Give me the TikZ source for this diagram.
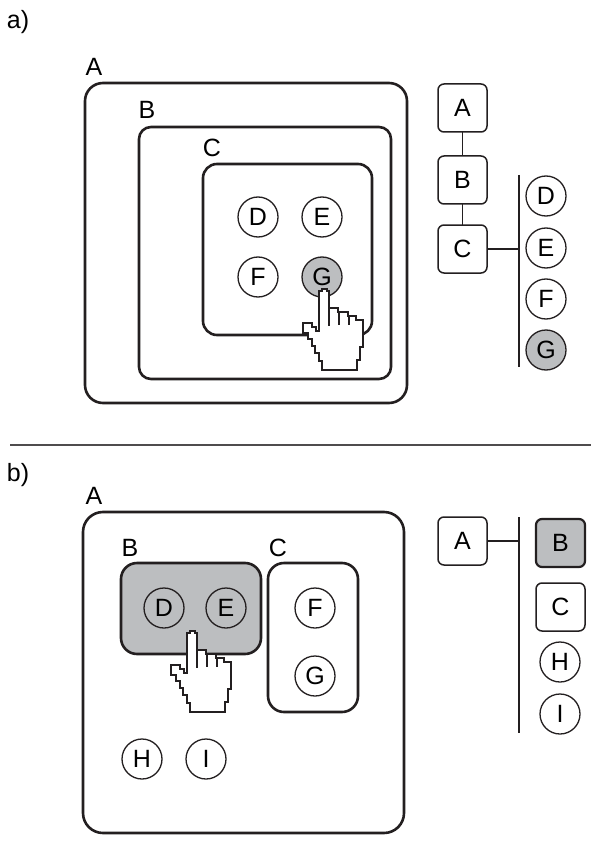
\documentclass[tikz,border=0pt]{standalone}
\usepackage{fontspec}
\setmainfont{Liberation Sans}
\definecolor{ink}{HTML}{231F20}
\definecolor{shade}{HTML}{BCBEC0}
\tikzset{
  region/.style={rectangle, draw=ink, line width=2.6pt, inner sep=0pt, outer sep=0pt},
  treebox/.style={rectangle, rounded corners=6pt, draw=ink, line width=1.5pt, minimum width=49pt,
                  minimum height=48pt, inner sep=0pt, outer sep=0pt, font=\fontsize{25}{25}\selectfont},
  leaf/.style={circle, draw=ink, line width=1.3pt, minimum size=40pt, inner sep=0pt, outer sep=0pt,
               font=\fontsize{25}{25}\selectfont},
  tag/.style={inner sep=0pt, font=\fontsize{25}{25}\selectfont},
  branch/.style={draw=ink, line width=1.8pt},
  hand/.pic={
    \draw[fill=white, draw=ink, line width=2.6pt, miter limit=2]
      (-5,42) -- (-5,2) -- (-2,2) -- (-2,0) -- (3,0) -- (3,2) -- (5,2) -- (5,19) -- (14,19)
      -- (14,23) -- (24,23) -- (24,27) -- (32,27) -- (32,31) -- (39,31) -- (39,58) -- (36,58)
      -- (36,71) -- (33,71) -- (33,81) -- (-2,81) -- (-2,72) -- (-5,72) -- (-5,64) -- (-9,64)
      -- (-9,57) -- (-12,57) -- (-12,50) -- (-16,50) -- (-16,44) -- (-21,44) -- (-21,34)
      -- (-12,34) -- (-12,38) -- (-8,38) -- (-8,42) -- cycle;
    \draw[draw=ink, line width=2.6pt]
      (5,19) -- (5,37) (15,23) -- (15,36) (25,27) -- (25,36);
  }
}
\begin{document}
\begin{tikzpicture}[x=1pt,y=-1pt]
    \useasboundingbox (0,0) rectangle (606,850);
    % Panel a, nested regions
    \node (paneA) at (18,22) [tag] {a)};
    \node (areaA) at (246,243) [region, rounded corners=18pt, minimum width=322pt, minimum height=320pt] {};
    \node (areaB) at (265,253) [region, rounded corners=12pt, minimum width=252pt, minimum height=252pt] {};
    \node (areaC) at (287.5,249.5) [region, rounded corners=14pt, minimum width=169pt, minimum height=171pt] {};
    \node (tagA) at (94,67) [tag] {A};
    \node (tagB) at (147,110) [tag] {B};
    \node (tagC) at (212,148) [tag] {C};
    \node (itemD) at (258,217) [leaf] {D};
    \node (itemE) at (322,217) [leaf] {E};
    \node (itemF) at (258,277) [leaf] {F};
    \node (itemG) at (322,277) [leaf, fill=shade] {G};
    \pic at (324,289) {hand};
    % Panel a, tree
    \node (treeA) at (462.5,108) [treebox] {A};
    \node (treeB) at (462.5,180) [treebox] {B};
    \node (treeC) at (462.5,249) [treebox] {C};
    \coordinate (barT) at (519,175);
    \coordinate (barB) at (519,367);
    \node (treeD) at (546,196) [leaf] {D};
    \node (treeE) at (546,248) [leaf] {E};
    \node (treeF) at (546,299) [leaf] {F};
    \node (treeG) at (546,350) [leaf, fill=shade] {G};
    \draw [branch] (treeA) -- (treeB);
    \draw [branch] (treeB) -- (treeC);
    \draw [branch] (treeC) -- (treeC -| barT);
    \draw [branch] (barT) -- (barB);
    % Divider
    \coordinate (ruleL) at (10,445);
    \coordinate (ruleR) at (591,445);
    \draw [draw=ink!80, line width=1.5pt] (ruleL) -- (ruleR);
    % Panel b, regions
    \node (paneB) at (18,475) [tag] {b)};
    \node (spaceA) at (243.5,672.5) [region, rounded corners=20pt, minimum width=321pt, minimum height=321pt] {};
    \node (spaceB) at (191,608.5) [region, rounded corners=16pt, fill=shade, minimum width=140pt, minimum height=91pt] {};
    \node (spaceC) at (313,637.5) [region, rounded corners=16pt, minimum width=90pt, minimum height=149pt] {};
    \node (labelA) at (94,496) [tag] {A};
    \node (labelB) at (130,548) [tag] {B};
    \node (labelC) at (278,548) [tag] {C};
    \node (cellD) at (164,608) [leaf] {D};
    \node (cellE) at (226,608) [leaf] {E};
    \node (cellF) at (315,608) [leaf] {F};
    \node (cellG) at (315,676) [leaf] {G};
    \node (cellH) at (142,759) [leaf] {H};
    \node (cellI) at (206,759) [leaf] {I};
    \pic at (192,631) {hand};
    % Panel b, tree
    \node (rootA) at (462.5,541) [treebox] {A};
    \coordinate (stemT) at (519,517);
    \coordinate (stemB) at (519,733);
    \node (rootB) at (560.5,543) [treebox, fill=shade, line width=2.2pt] {B};
    \node (rootC) at (560.5,607) [treebox] {C};
    \node (rootH) at (560,662) [leaf] {H};
    \node (rootI) at (560,714) [leaf] {I};
    \draw [branch] (rootA) -- (rootA -| stemT);
    \draw [branch] (stemT) -- (stemB);
\end{tikzpicture}
\end{document}
